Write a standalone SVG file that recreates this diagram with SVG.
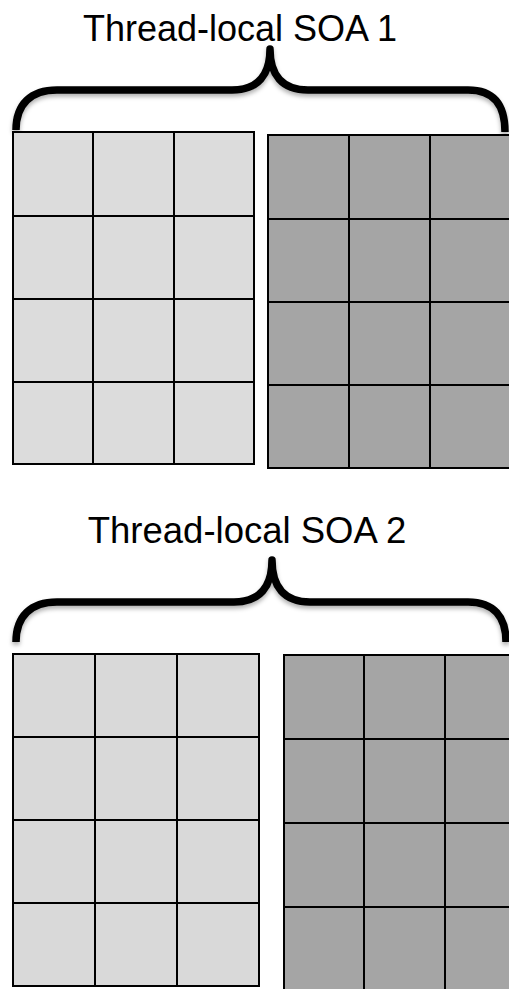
<svg xmlns="http://www.w3.org/2000/svg" width="509" height="989" viewBox="0 0 509 989">
  <defs>
    <filter id="braceShadow" x="-5%" y="-20%" width="110%" height="150%">
      <feDropShadow dx="0" dy="3" stdDeviation="2" flood-color="#000" flood-opacity="0.3"/>
    </filter>
  </defs>
  <style>
    .label { font-family: "Liberation Sans", Arial, sans-serif; font-size: 36px; fill: #000; text-anchor: middle; }
    .brace { fill: none; stroke: #000; stroke-width: 7.5; stroke-linejoin: round; stroke-linecap: butt; filter: url(#braceShadow); }
    .light { fill: #dcdcdc; }
    .dark { fill: #a5a5a5; }
    .grid { fill: none; stroke: #000; stroke-width: 2; }
  </style>

  <rect width="509" height="989" fill="#fff"/>

  <!-- labels -->
  <g id="label-soa1">
    <text class="label" x="240" y="41">Thread-local SOA 1</text>
  </g>
  <g id="label-soa2">
    <text class="label" x="247" y="543" style="font-size:36.5px">Thread-local SOA 2</text>
  </g>

  <!-- curly braces spanning each pair of arrays -->
  <g id="connectors">
    <path class="brace" d="M16,130 C16,104 31,90 57,90 L232,90 C258,90 270,75 270,49 C270,75 282,90 308,90 L468,90 C494,90 505,105 505,132"/>
    <path class="brace" d="M16,642 C16,616 31,602 57,602 L234,602 C260,602 272,587 272,560 C272,587 284,602 310,602 L468,602 C494,602 506,617 506,642"/>
  </g>

  <!-- SOA 1, first array (3 x 4 cells) -->
  <g id="soa1-array-a">
    <rect class="light" x="13" y="132" width="241" height="332"/>
    <path class="grid" d="M93,132 V464 M174,132 V464 M13,216 H254 M13,299 H254 M13,382 H254"/>
    <rect class="grid" x="13" y="132" width="241" height="332"/>
  </g>

  <!-- SOA 1, second array -->
  <g id="soa1-array-b">
    <rect class="dark" x="268" y="135" width="245" height="333"/>
    <path class="grid" d="M349,135 V468 M430,135 V468 M268,219 H513 M268,302 H513 M268,385 H513"/>
    <rect class="grid" x="268" y="135" width="245" height="333"/>
  </g>

  <!-- SOA 2, first array -->
  <g id="soa2-array-a">
    <rect class="light" x="13" y="654" width="246" height="332" style="fill:#d9d9d9"/>
    <path class="grid" d="M95,654 V986 M177,654 V986 M13,737 H259 M13,820 H259 M13,903 H259"/>
    <rect class="grid" x="13" y="654" width="246" height="332"/>
  </g>

  <!-- SOA 2, second array -->
  <g id="soa2-array-b">
    <rect class="dark" x="284" y="655" width="245" height="340"/>
    <path class="grid" d="M364,655 V995 M445,655 V995 M284,739 H529 M284,823 H529 M284,907 H529"/>
    <rect class="grid" x="284" y="655" width="245" height="340"/>
  </g>
</svg>
